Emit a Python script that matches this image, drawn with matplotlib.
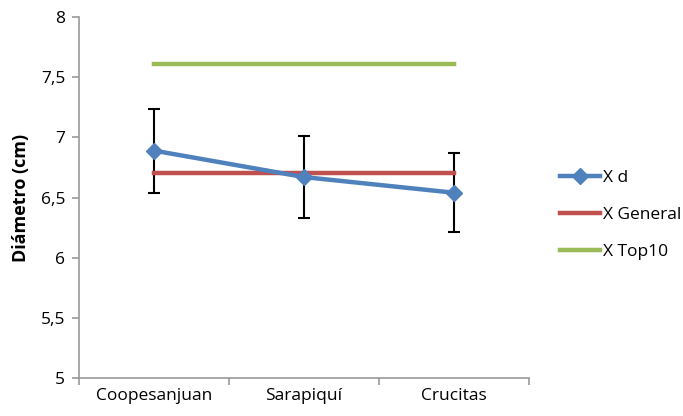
import matplotlib
matplotlib.use("Agg")
import matplotlib.pyplot as plt
import numpy as np

# data
sites = ["Coopesanjuan", "Sarapiquí", "Crucitas"]
x_d = [6.89, 6.67, 6.54]
x_d_err = [0.35, 0.34, 0.33]
x_general = [6.70, 6.70, 6.70]
x_top10 = [7.61, 7.61, 7.61]
y_ticks = [5, 5.5, 6, 6.5, 7, 7.5, 8]
y_tick_labels = ["5", "5,5", "6", "6,5", "7", "7,5", "8"]

plt.rcParams["font.family"] = ["Open Sans", "DejaVu Sans"]

fig = plt.figure(figsize=(6.83, 4.16), dpi=100)
ax = fig.add_axes([0.1157, 0.0913, 0.6588, 0.8677])

pos = np.arange(len(sites))
ax.errorbar(pos, x_d, yerr=x_d_err, fmt="none", ecolor="black",
            elinewidth=1.5, capsize=4, capthick=1.5, zorder=2)
ax.plot(pos, x_d, color="#4F81BD", lw=3.2, marker="D", markersize=8,
        label="X d", zorder=4)
ax.plot(pos, x_general, color="#C0504D", lw=3.2, label="X General", zorder=3)
ax.plot(pos, x_top10, color="#9BBB59", lw=3.2, label="X Top10", zorder=3)

ax.set_xlim(-0.5, len(sites) - 0.5)
ax.set_ylim(5, 8)
ax.set_yticks(y_ticks)
ax.set_yticklabels(y_tick_labels, fontsize=12.5)
ax.set_xticks(pos)
ax.set_xticklabels(sites, fontsize=12.5)
ax.set_xticks(np.arange(-0.5, len(sites)), minor=True)
ax.tick_params(axis="x", which="major", length=0, pad=7)
ax.tick_params(axis="x", which="minor", length=5, color="#999999", width=1.2)
ax.tick_params(axis="y", length=5, color="#999999", width=1.2, pad=5)

for side in ["top", "right"]:
    ax.spines[side].set_visible(False)
for side in ["left", "bottom"]:
    ax.spines[side].set_color("#999999")
    ax.spines[side].set_linewidth(1.2)

ax.set_ylabel("Diámetro (cm)", fontsize=13, fontweight="bold", labelpad=8)

ax.legend(loc="center left", bbox_to_anchor=(1.035, 0.452), frameon=False,
          fontsize=12.5, handlelength=2.3, handletextpad=0.15, labelspacing=1.2)

fig.savefig("out.png", dpi=100)
plt.close(fig)
